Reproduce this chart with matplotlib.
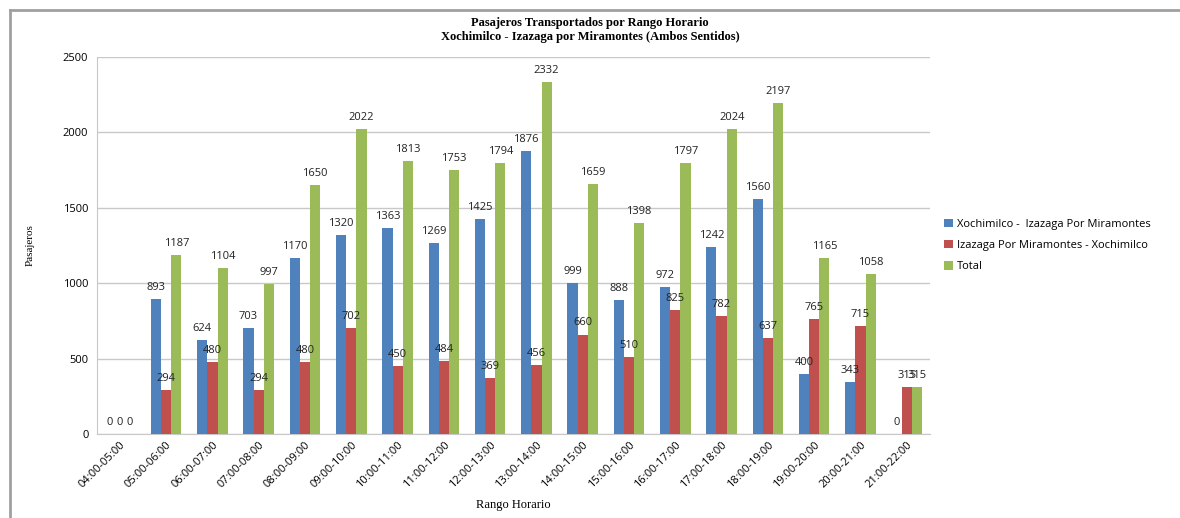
import numpy as np
import matplotlib
matplotlib.use("Agg")
import matplotlib.pyplot as plt
from matplotlib.lines import Line2D

horas = ["04:00-05:00", "05:00-06:00", "06:00-07:00", "07:00-08:00", "08:00-09:00",
         "09:00-10:00", "10:00-11:00", "11:00-12:00", "12:00-13:00", "13:00-14:00",
         "14:00-15:00", "15:00-16:00", "16:00-17:00", "17:00-18:00", "18:00-19:00",
         "19:00-20:00", "20:00-21:00", "21:00-22:00"]
xochi_izazaga = [0, 893, 624, 703, 1170, 1320, 1363, 1269, 1425, 1876, 999, 888, 972, 1242, 1560, 400, 343, 0]
izazaga_xochi = [0, 294, 480, 294, 480, 702, 450, 484, 369, 456, 660, 510, 825, 782, 637, 765, 715, 315]
total = [0, 1187, 1104, 997, 1650, 2022, 1813, 1753, 1794, 2332, 1659, 1398, 1797, 2024, 2197, 1165, 1058, 315]

series = [
    ("Xochimilco -  Izazaga Por Miramontes", xochi_izazaga, "#4f81bd"),
    ("Izazaga Por Miramontes - Xochimilco", izazaga_xochi, "#c0504d"),
    ("Total", total, "#9bbb59"),
]

sans = ["Open Sans", "DejaVu Sans"]
serif = ["Liberation Serif", "DejaVu Serif"]

fig = plt.figure(figsize=(11.8, 5.18), dpi=100)
ax = fig.add_axes([0.082, 0.162, 0.706, 0.728])

x = np.arange(len(horas))
w = 0.22
for i, (name, vals, col) in enumerate(series):
    pos = x + (i - 1) * w
    ax.bar(pos, vals, w, color=col, label=name, zorder=3)
    for px, v in zip(pos, vals):
        ax.text(px, v + 40, str(v), ha="center", va="bottom", fontsize=8,
                family=sans, color="#222222", zorder=4)

ax.set_xlim(-0.5, len(horas) - 0.5)
ax.set_ylim(0, 2500)
ax.set_yticks(range(0, 2501, 500))
ax.yaxis.grid(True, color="#c8c8c8", lw=1, zorder=0)
ax.set_xticks(x)
ax.set_xticklabels(horas, rotation=45, ha="right", rotation_mode="anchor",
                   fontsize=8, family=sans)
for lab in ax.get_yticklabels():
    lab.set_family(sans)
    lab.set_fontsize(8)
ax.tick_params(axis="both", length=0, pad=6)
ax.tick_params(axis="x", pad=4)
for s in ["top", "right"]:
    ax.spines[s].set_visible(False)
ax.spines["left"].set_color("#c8c8c8")
ax.spines["bottom"].set_color("#c8c8c8")

ax.set_ylabel("Pasajeros", family=serif, fontsize=8, labelpad=20)
ax.set_xlabel("Rango Horario", family=serif, fontsize=9, labelpad=6)

fig.text(0.5, 0.942, "Pasajeros Transportados por Rango Horario\n"
         "Xochimilco - Izazaga por Miramontes (Ambos Sentidos)",
         ha="center", va="center", family=serif, fontweight="bold", fontsize=9,
         linespacing=1.3)

ax.legend(loc="center left", bbox_to_anchor=(1.005, 0.5), frameon=False,
          prop={"family": sans, "size": 8}, handlelength=0.8, handleheight=0.8,
          labelspacing=0.9, handletextpad=0.4)

# marco exterior
fig.add_artist(Line2D([10 / 1180, 10 / 1180], [0, 1 - 10 / 518], transform=fig.transFigure,
                      color="#a0a0a0", lw=2))
fig.add_artist(Line2D([10 / 1180, 1], [1 - 10 / 518, 1 - 10 / 518], transform=fig.transFigure,
                      color="#a0a0a0", lw=2))

fig.savefig("out.png", dpi=100, facecolor="white")
